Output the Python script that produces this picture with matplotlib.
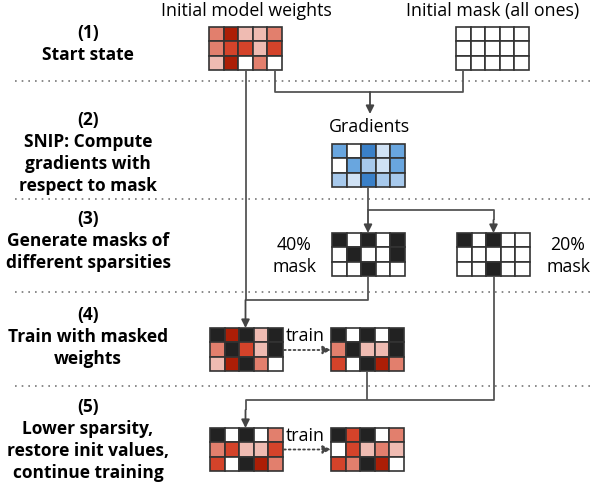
import matplotlib
matplotlib.use("Agg")
import matplotlib.pyplot as plt
from matplotlib.patches import Rectangle

plt.rcParams.update({"font.family": ["Open Sans", "DejaVu Sans"], "font.size": 12.8})

# cell values: 0 = white, 1..4 = colour level, -1 = black (masked)
init_w = [[2, 4, 1, 1, 2], [2, 3, 3, 1, 3], [1, 4, 0, 2, 0]]
mask_ones = [[0] * 5 for _ in range(3)]
grads = [[3, 0, 4, 1, 3], [0, 3, 2, 1, 3], [2, 1, 4, 2, 2]]
mask40 = [[-1, 0, -1, 0, -1], [0, -1, 0, 0, -1], [0, 0, -1, 0, 0]]
mask20 = [[-1, 0, -1, 0, 0], [0, 0, 0, 0, 0], [0, 0, -1, 0, 0]]
s4_left = [[-1, 4, -1, 1, -1], [2, -1, 3, 1, -1], [1, 4, -1, 2, 0]]
s4_right = [[-1, 0, -1, 0, -1], [2, -1, 1, 1, -1], [3, 0, -1, 4, 2]]
s5_left = [[-1, 0, -1, 0, 2], [2, 3, 1, 1, 3], [3, 0, -1, 4, 2]]
s5_right = [[-1, 3, -1, 0, 2], [0, 3, 1, 2, 1], [3, 2, -1, 4, 0]]

step_labels = ["(1)\nStart state",
               "(2)\nSNIP: Compute\ngradients with\nrespect to mask",
               "(3)\nGenerate masks of\ndifferent sparsities",
               "(4)\nTrain with masked\nweights",
               "(5)\nLower sparsity,\nrestore init values,\ncontinue training"]

REDS = {0: "white", 1: "#EFBBB2", 2: "#E27F6D", 3: "#D4432A", 4: "#AC1E06", -1: "#222222"}
BLUES = {0: "white", 1: "#D0E2F5", 2: "#A7C9EC", 3: "#69A6DF", 4: "#3A80C8", -1: "#222222"}

CW, CH = 14.6, 14.4
LINE = "#555555"

fig = plt.figure(figsize=(6.04, 4.87), dpi=100)
ax = fig.add_axes([0, 0, 1, 1])
ax.set_xlim(0, 604)
ax.set_ylim(487, 0)
ax.axis("off")


def grid(vals, x0, y0, cmap):
    for r, row in enumerate(vals):
        for c, v in enumerate(row):
            ax.add_patch(Rectangle((x0 + c * CW, y0 + r * CH), CW, CH,
                                   facecolor=cmap[v], edgecolor="#333333", lw=1.2))


def line(xs, ys):
    ax.plot(xs, ys, color=LINE, lw=1.3, solid_capstyle="butt")


def arrow(x0, y0, x1, y1, ls="-"):
    ax.annotate("", xy=(x1, y1), xytext=(x0, y0),
                arrowprops=dict(arrowstyle="-|>", color="#444444", lw=1.3,
                                ls=ls, mutation_scale=12, shrinkA=0, shrinkB=0))


# separators
for y in [81, 199, 292, 386]:
    ax.plot([15, 595], [y, y], color="#777777", lw=1.2, ls=(0, (1, 3)))

# step labels
for lab, y in zip(step_labels, [44, 153, 241, 337, 440]):
    ax.text(88, y, lab, ha="center", va="center", fontweight="bold",
            fontsize=12.5, linespacing=1.28)

# connectors
line([245.5, 245.5], [70, 300])
arrow(245.5, 300, 245.5, 328)
line([275, 275, 463.3, 463.3], [70, 92, 92, 70])
arrow(370, 92, 370, 114)
line([368, 368], [187, 210])
arrow(368, 210, 368, 233)
line([368, 493.5, 493.5], [210, 210, 220])
arrow(493.5, 220, 493.5, 233)
line([368, 368, 245.5], [277, 300, 300])
line([367, 367], [372, 400])
line([493.5, 493.5, 245.5, 245.5], [277, 400, 400, 410])
arrow(245.5, 410, 245.5, 428)
arrow(284, 350, 331, 350, ls=":")
arrow(284, 449.5, 331, 449.5, ls=":")

# grids
grid(init_w, 209, 27, REDS)
grid(mask_ones, 456, 27, REDS)
grid(grads, 332, 144, BLUES)
grid(mask40, 332, 233, REDS)
grid(mask20, 457, 233, REDS)
grid(s4_left, 210, 328, REDS)
grid(s4_right, 331, 328, REDS)
grid(s5_left, 210, 428, REDS)
grid(s5_right, 331, 428, REDS)

# other texts
ax.text(246, 11, "Initial model weights", ha="center", va="center")
ax.text(493, 11, "Initial mask (all ones)", ha="center", va="center")
ax.text(369, 127, "Gradients", ha="center", va="center")
ax.text(294, 256, "40%\nmask", ha="center", va="center", linespacing=1.28)
ax.text(568, 256, "20%\nmask", ha="center", va="center", linespacing=1.28)
ax.text(305, 336, "train", ha="center", va="center")
ax.text(305, 436, "train", ha="center", va="center")

fig.savefig("out.png", dpi=100)
